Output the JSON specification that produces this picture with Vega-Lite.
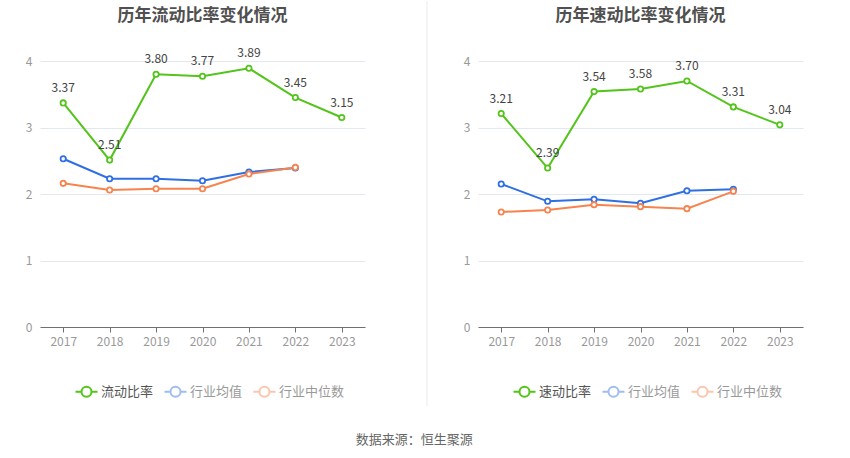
{
  "$schema": "https://vega.github.io/schema/vega-lite/v6.json",
  "background": "white",
  "padding": {"left": 25, "top": 0, "right": 5, "bottom": 5},
  "title": {"text": "数据来源：恒生聚源", "orient": "bottom", "anchor": "middle", "fontSize": 13, "fontWeight": "normal", "color": "#666", "offset": 27},
  "config": {
    "font": "Noto Sans CJK SC",
    "view": {"stroke": null},
    "title": {"fontSize": 17, "fontWeight": "bold", "color": "#505050", "font": "Noto Sans CJK SC"},
    "axis": {"labelFont": "Noto Sans CJK SC", "labelColor": "#999", "labelFontSize": 12, "title": null}
  },
  "datasets": {
    "d": [
      {"panel": "L", "series": "流动比率", "year": "2017", "value": 3.37},
      {"panel": "L", "series": "流动比率", "year": "2018", "value": 2.51},
      {"panel": "L", "series": "流动比率", "year": "2019", "value": 3.80},
      {"panel": "L", "series": "流动比率", "year": "2020", "value": 3.77},
      {"panel": "L", "series": "流动比率", "year": "2021", "value": 3.89},
      {"panel": "L", "series": "流动比率", "year": "2022", "value": 3.45},
      {"panel": "L", "series": "流动比率", "year": "2023", "value": 3.15},
      {"panel": "L", "series": "行业均值", "year": "2017", "value": 2.53},
      {"panel": "L", "series": "行业均值", "year": "2018", "value": 2.23},
      {"panel": "L", "series": "行业均值", "year": "2019", "value": 2.23},
      {"panel": "L", "series": "行业均值", "year": "2020", "value": 2.20},
      {"panel": "L", "series": "行业均值", "year": "2021", "value": 2.33},
      {"panel": "L", "series": "行业均值", "year": "2022", "value": 2.39},
      {"panel": "L", "series": "行业中位数", "year": "2017", "value": 2.16},
      {"panel": "L", "series": "行业中位数", "year": "2018", "value": 2.06},
      {"panel": "L", "series": "行业中位数", "year": "2019", "value": 2.08},
      {"panel": "L", "series": "行业中位数", "year": "2020", "value": 2.08},
      {"panel": "L", "series": "行业中位数", "year": "2021", "value": 2.30},
      {"panel": "L", "series": "行业中位数", "year": "2022", "value": 2.40},
      {"panel": "R", "series": "速动比率", "year": "2017", "value": 3.21},
      {"panel": "R", "series": "速动比率", "year": "2018", "value": 2.39},
      {"panel": "R", "series": "速动比率", "year": "2019", "value": 3.54},
      {"panel": "R", "series": "速动比率", "year": "2020", "value": 3.58},
      {"panel": "R", "series": "速动比率", "year": "2021", "value": 3.70},
      {"panel": "R", "series": "速动比率", "year": "2022", "value": 3.31},
      {"panel": "R", "series": "速动比率", "year": "2023", "value": 3.04},
      {"panel": "R", "series": "行业均值", "year": "2017", "value": 2.15},
      {"panel": "R", "series": "行业均值", "year": "2018", "value": 1.89},
      {"panel": "R", "series": "行业均值", "year": "2019", "value": 1.92},
      {"panel": "R", "series": "行业均值", "year": "2020", "value": 1.86},
      {"panel": "R", "series": "行业均值", "year": "2021", "value": 2.05},
      {"panel": "R", "series": "行业均值", "year": "2022", "value": 2.07},
      {"panel": "R", "series": "行业中位数", "year": "2017", "value": 1.73},
      {"panel": "R", "series": "行业中位数", "year": "2018", "value": 1.76},
      {"panel": "R", "series": "行业中位数", "year": "2019", "value": 1.84},
      {"panel": "R", "series": "行业中位数", "year": "2020", "value": 1.81},
      {"panel": "R", "series": "行业中位数", "year": "2021", "value": 1.78},
      {"panel": "R", "series": "行业中位数", "year": "2022", "value": 2.04}
    ]
  },
  "spacing": 35,
  "resolve": {"scale": {"color": "independent", "x": "independent", "y": "independent"}, "legend": {"color": "independent"}},
  "hconcat": [
    {
      "data": {"name": "d"},
      "width": 325, "height": 266,
      "title": {"text": "历年流动比率变化情况", "offset": 22},
      "transform": [{"filter": "datum.panel === 'L'"}],
      "encoding": {
        "x": {"field": "year", "type": "ordinal", "scale": {"type": "point", "padding": 0.5},
              "axis": {"labelAngle": 0, "domainColor": "#6e7079", "tickColor": "#6e7079", "tickSize": 5, "labelPadding": 4, "grid": false}},
        "y": {"field": "value", "type": "quantitative", "scale": {"domain": [0, 4]},
              "axis": {"values": [0, 1, 2, 3, 4], "domain": false, "ticks": false, "labelPadding": 8, "gridColor": "#e3e7ef"}},
        "color": {"field": "series", "type": "nominal",
                  "scale": {"domain": ["流动比率", "行业均值", "行业中位数"], "range": ["#52c41a", "#2f6fe4", "#f7834e"]},
                  "legend": {"orient": "none", "legendX": 40, "legendY": 324, "direction": "horizontal", "title": null,
                             "symbolType": "M-2.2,0H-1M1,0H2.2M-1,0A1,1 0 1,1 1,0A1,1 0 1,1 -1,0", "symbolSize": 100, "symbolStrokeWidth": 2, "symbolFillColor": "white",
                             "labelFontSize": 13, "labelFont": "Noto Sans CJK SC", "columnPadding": 6, "labelOffset": 8,
                             "encode": {"symbols": {"update": {"opacity": {"signal": "datum.value === '行业均值' || datum.value === '行业中位数' ? 0.45 : 1"}}},
                                        "labels": {"update": {"fill": {"signal": "datum.value === '行业均值' || datum.value === '行业中位数' ? '#999' : '#555'"}}}}}}
      },
      "layer": [
        {"mark": {"type": "line", "strokeWidth": 2}},
        {"mark": {"type": "point", "filled": false, "fill": "white", "fillOpacity": 1, "size": 28, "strokeWidth": 1.8, "opacity": 1}},
        {"transform": [{"filter": "datum.series === '流动比率'"}],
         "mark": {"type": "text", "dy": -15, "fontSize": 12, "font": "Noto Sans CJK SC"},
         "encoding": {"text": {"field": "value", "type": "quantitative", "format": ".2f"}, "color": {"value": "#444"}}}
      ]
    },
    {
      "data": {"values": [{}]},
      "width": 27, "height": 266,
      "mark": {"type": "rule", "color": "#ebebeb", "strokeWidth": 1},
      "encoding": {
        "x": {"datum": 1, "type": "quantitative", "scale": {"domain": [0, 1]}, "axis": null},
        "y": {"datum": 4.9, "type": "quantitative", "scale": {"domain": [0, 4]}, "axis": null},
        "y2": {"datum": -1.19}
      }
    },
    {
      "data": {"name": "d"},
      "width": 325, "height": 266,
      "title": {"text": "历年速动比率变化情况", "offset": 30},
      "transform": [{"filter": "datum.panel === 'R'"}],
      "encoding": {
        "x": {"field": "year", "type": "ordinal", "scale": {"type": "point", "padding": 0.5},
              "axis": {"labelAngle": 0, "domainColor": "#6e7079", "tickColor": "#6e7079", "tickSize": 5, "labelPadding": 4, "grid": false}},
        "y": {"field": "value", "type": "quantitative", "scale": {"domain": [0, 4]},
              "axis": {"values": [0, 1, 2, 3, 4], "domain": false, "ticks": false, "labelPadding": 8, "gridColor": "#e3e7ef"}},
        "color": {"field": "series", "type": "nominal",
                  "scale": {"domain": ["速动比率", "行业均值", "行业中位数"], "range": ["#52c41a", "#2f6fe4", "#f7834e"]},
                  "legend": {"orient": "none", "legendX": 40, "legendY": 324, "direction": "horizontal", "title": null,
                             "symbolType": "M-2.2,0H-1M1,0H2.2M-1,0A1,1 0 1,1 1,0A1,1 0 1,1 -1,0", "symbolSize": 100, "symbolStrokeWidth": 2, "symbolFillColor": "white",
                             "labelFontSize": 13, "labelFont": "Noto Sans CJK SC", "columnPadding": 6, "labelOffset": 8,
                             "encode": {"symbols": {"update": {"opacity": {"signal": "datum.value === '行业均值' || datum.value === '行业中位数' ? 0.45 : 1"}}},
                                        "labels": {"update": {"fill": {"signal": "datum.value === '行业均值' || datum.value === '行业中位数' ? '#999' : '#555'"}}}}}}
      },
      "layer": [
        {"mark": {"type": "line", "strokeWidth": 2}},
        {"mark": {"type": "point", "filled": false, "fill": "white", "fillOpacity": 1, "size": 28, "strokeWidth": 1.8, "opacity": 1}},
        {"transform": [{"filter": "datum.series === '速动比率'"}],
         "mark": {"type": "text", "dy": -15, "fontSize": 12, "font": "Noto Sans CJK SC"},
         "encoding": {"text": {"field": "value", "type": "quantitative", "format": ".2f"}, "color": {"value": "#444"}}}
      ]
    }
  ]
}
